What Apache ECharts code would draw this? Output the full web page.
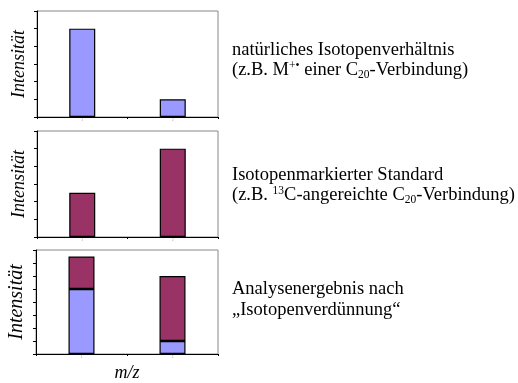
<!DOCTYPE html>
<html><head><meta charset="utf-8">
<script src="https://cdn.jsdelivr.net/npm/echarts@6/dist/echarts.min.js"></script>
<style>html,body{margin:0;padding:0;background:#fff}#c{width:518px;height:383px}</style>
</head><body><div id="c"></div>
<script>
const categories = ['1', '2'];
const naturalValues = [5, 1];
const standardValues = [2.5, 5];
const mixNaturalValues = [5, 1];
const mixStandardValues = [2.5, 5];
const yMaxValues = [6, 6, 8];
const yAxisTitle = 'Intensität';
const xAxisTitle = 'm/z';

const BLUE = '#9999FF';
const MAROON = '#993366';
const SERIF = "'Liberation Serif', 'Times New Roman', serif";

const chart = echarts.init(document.getElementById('c'), null, {renderer: 'canvas'});

const grids = [
  {left: 37, top: 11, width: 181, height: 106},
  {left: 37, top: 131, width: 181, height: 106},
  {left: 36, top: 250, width: 182, height: 107}
].map(g => Object.assign({show: true, borderColor: '#888888', borderWidth: 1, backgroundColor: '#fff'}, g));

const xAxes = [0, 1, 2].map(i => ({
  type: 'category', gridIndex: i, data: categories,
  axisLine: {lineStyle: {color: '#000', width: 1}},
  axisTick: {show: true, length: 2, lineStyle: {color: '#000'}},
  axisLabel: {fontSize: 3, color: '#999', margin: 2},
  name: i === 2 ? xAxisTitle : '',
  nameLocation: 'middle', nameGap: 10,
  nameTextStyle: {fontFamily: SERIF, fontStyle: 'italic', fontSize: 18, color: '#000'}
}));

const yAxes = [0, 1, 2].map(i => ({
  type: 'value', gridIndex: i, min: 0, max: yMaxValues[i], interval: 1,
  axisLine: {show: true, lineStyle: {color: '#000', width: 1}},
  axisTick: {show: true, length: 3, lineStyle: {color: '#000'}},
  axisLabel: {show: false},
  splitLine: {show: false},
  name: yAxisTitle, nameLocation: 'middle', nameGap: 9,
  nameTextStyle: {fontFamily: SERIF, fontStyle: 'italic', fontSize: i === 2 ? 20 : 18, color: '#000'}
}));

const barStyle = c => ({color: c, borderColor: '#000', borderWidth: 1.2});
const series = [
  {type: 'bar', xAxisIndex: 0, yAxisIndex: 0, data: naturalValues, barWidth: 26, itemStyle: barStyle(BLUE)},
  {type: 'bar', xAxisIndex: 1, yAxisIndex: 1, data: standardValues, barWidth: 26, itemStyle: barStyle(MAROON)},
  {type: 'bar', xAxisIndex: 2, yAxisIndex: 2, data: mixNaturalValues, stack: 'mix', barWidth: 26, itemStyle: barStyle(BLUE)},
  {type: 'bar', xAxisIndex: 2, yAxisIndex: 2, data: mixStandardValues, stack: 'mix', barWidth: 26, itemStyle: barStyle(MAROON)}
];

const FS = 18.5;
const rich = {
  b: {fontSize: FS, fontFamily: SERIF, color: '#000', lineHeight: 21},
  sup: {fontSize: 11.5, fontFamily: SERIF, color: '#000', verticalAlign: 'top', lineHeight: 14},
  sub: {fontSize: 11.5, fontFamily: SERIF, color: '#000', verticalAlign: 'bottom', lineHeight: 5}
};
function line(x, baseline, text) {
  return {
    type: 'text', x: x, y: baseline - 6,
    style: {text: text, rich: rich, verticalAlign: 'middle', align: 'left', fontSize: FS, fontFamily: SERIF, fill: '#000'}
  };
}
const TX = 232;
const graphic = [
  line(TX, 56, '{b|natürliches Isotopenverhältnis}'),
  line(TX, 76, '{b|(z.B. M}{sup|+•}{b| einer C}{sub|20}{b|-Verbindung)}'),
  line(TX, 181, '{b|Isotopenmarkierter Standard}'),
  line(TX, 201, '{b|(z.B. }{sup|13}{b|C-angereichte C}{sub|20}{b|-Verbindung)}'),
  line(TX, 295, '{b|Analysenergebnis nach}'),
  line(TX, 316, '{b|„Isotopenverdünnung“}')
];

chart.setOption({
  animation: false,
  backgroundColor: '#fff',
  grid: grids, xAxis: xAxes, yAxis: yAxes, series: series, graphic: graphic
});
</script></body></html>
